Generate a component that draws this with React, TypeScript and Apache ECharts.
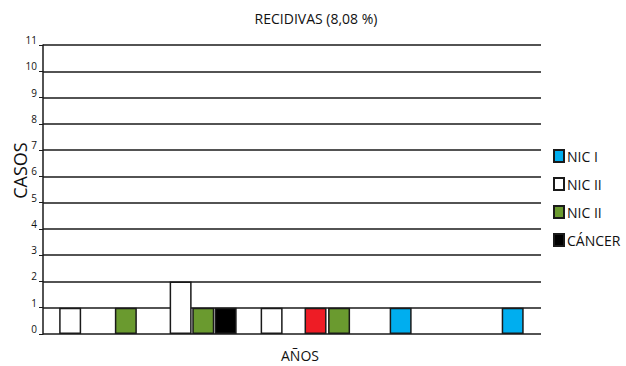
import React, { useEffect, useRef } from "react";
import * as echarts from "echarts";

const yTicks = [0, 1, 2, 3, 4, 5, 6, 7, 8, 9, 10, 11];
// bar positions along the (unlabelled) years axis, in bar-width units
const nicI: [number, number][] = [[15.8, 1], [20.75, 1]];
const nicIIWhite: [number, number][] = [[1.2, 1], [6.08, 2], [10.1, 1]];
const nicIIGreen: [number, number][] = [[3.66, 1], [7.08, 1], [13.08, 1]];
const cancer: [number, number][] = [[8.07, 1]];
const other: [number, number][] = [[12.04, 1]];

const FONT = "Open Sans";

export default function App() {
  const ref = useRef<HTMLDivElement>(null);
  useEffect(() => {
    const chart = echarts.init(ref.current!, null, { renderer: "svg" });
    const mk = (name: string, data: [number, number][], color: string) => ({
      name,
      type: "bar",
      data,
      barWidth: 22,
      barGap: "-100%",
      itemStyle: { color, borderColor: "#1a1a1a", borderWidth: 1.5 },
    });
    chart.setOption({
      animation: false,
      textStyle: { fontFamily: FONT },
      title: {
        text: "RECIDIVAS (8,08 %)",
        left: 311,
        textAlign: "center",
        top: 6,
        textStyle: { fontFamily: FONT, fontSize: 14, fontWeight: "normal", color: "#111" },
      },
      grid: { left: 43, right: 85, top: 45, bottom: 32, containLabel: false, outerBoundsMode: "none" },
      legend: {
        data: ["NIC I", "NIC II", "NIC II ", "CÁNCER"],
        orient: "vertical",
        left: 548,
        top: 144,
        itemWidth: 10,
        itemHeight: 12,
        itemGap: 14,
        icon: "rect",
        formatter: (n: string) => n.trim(),
        textStyle: { fontFamily: FONT, fontSize: 14, color: "#111", padding: [0, 0, 0, -2] },
      },
      xAxis: {
        type: "value",
        min: 0,
        max: 22,
        axisLabel: { show: false },
        axisTick: { show: false },
        axisLine: { show: false },
        splitLine: { show: false },
        name: "AÑOS",
        nameLocation: "middle",
        nameGap: 14,
        nameTextStyle: { fontFamily: FONT, fontSize: 14, color: "#111", padding: [0, 0, 0, 16] },
      },
      yAxis: {
        type: "value",
        min: 0,
        max: 11,
        interval: 1,
        axisLine: { show: true, onZero: false, lineStyle: { color: "#1a1a1a", width: 1.5 } },
        axisTick: { show: true, length: 4, lineStyle: { color: "#1a1a1a" } },
        axisLabel: {
          fontFamily: FONT,
          fontSize: 10,
          color: "#111",
          margin: 6,
          verticalAlign: "bottom",
          formatter: (v: number) => (yTicks.includes(v) ? String(v) : ""),
        },
        splitLine: { show: true, lineStyle: { color: "#1a1a1a", width: 1.5 } },
        name: "CASOS",
        nameLocation: "middle",
        nameGap: 14,
        nameMoveOverlap: false,
        nameTextStyle: { fontFamily: FONT, fontSize: 18, color: "#111", padding: [0, 0, 0, 38] },
      },
      series: [
        mk("NIC I", nicI, "#00aeef"),
        mk("NIC II", nicIIWhite, "#ffffff"),
        mk("NIC II ", nicIIGreen, "#6a9a2f"),
        mk("CÁNCER", cancer, "#000000"),
        mk("OTRO", other, "#ee1c25"),
      ],
    });
    return () => chart.dispose();
  }, []);
  return (
    <div style={{ position: "fixed", left: 0, top: 0, width: 626, height: 366, background: "#fff" }}>
      <div ref={ref} style={{ width: 626, height: 366 }} />
    </div>
  );
}
